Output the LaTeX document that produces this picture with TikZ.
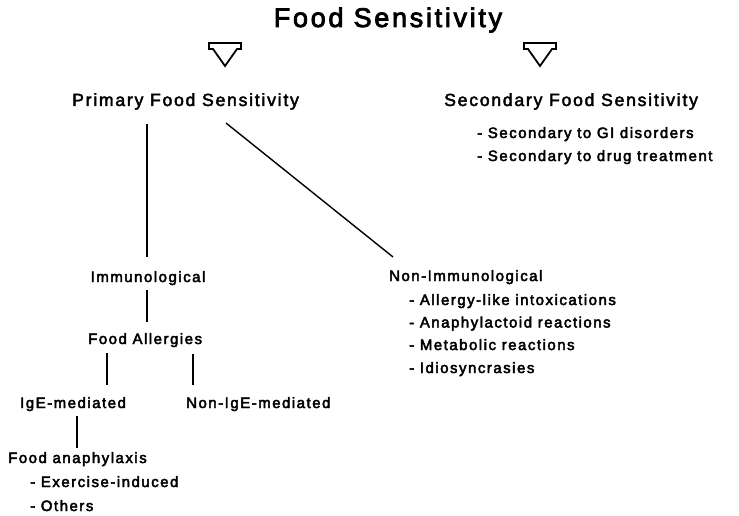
\documentclass[tikz,border=0pt]{standalone}
\usepackage{fontspec}
\setmainfont{Liberation Sans}
\newfontfamily\lsfont{Liberation Sans}[LetterSpace=10,FakeBold=3]
\newfontfamily\hdfont{Liberation Sans}[LetterSpace=10,FakeBold=2.5]
\newfontfamily\tsfont{Liberation Sans}[LetterSpace=10,FakeBold=3]
\begin{document}
\begin{tikzpicture}[x=1pt,y=-1pt,
  txt/.style={inner sep=0pt,anchor=base west,font=\lsfont\fontsize{15}{17}\selectfont},
  head/.style={inner sep=0pt,anchor=base west,font=\hdfont\fontsize{17.6}{20}\selectfont},
  link/.style={line width=1.4pt},
  openarrow/.style={line width=1.8pt,line join=miter}]
\useasboundingbox (0,0) rectangle (739,516);
\node[inner sep=0pt,anchor=base,font=\tsfont\fontsize{27}{30}\selectfont] (title) at (388,27) {Food Sensitivity};
% open arrows
\coordinate (arL) at (225,43);
\coordinate (arR) at (540,43);
\foreach \c in {arL,arR}{
  \draw[openarrow] ([xshift=-16pt]\c) -- ([xshift=16pt]\c) -- ([xshift=16pt,yshift=-6pt]\c) -- ([xshift=12pt,yshift=-6pt]\c)
     -- ([yshift=-23pt]\c) -- ([xshift=-12pt,yshift=-6pt]\c) -- ([xshift=-16pt,yshift=-6pt]\c) -- cycle;
}
\node[head] (prim) at (72,106) {Primary Food Sensitivity};
\node[head] (sec) at (444,106) {Secondary Food Sensitivity};
\node[txt] (sec1) at (477,138) {-\ Secondary to GI disorders};
\node[txt] (sec2) at (477,161) {-\ Secondary to drug treatment};
\node[txt,anchor=base] (imm) at (148,282) {Immunological};
\node[txt] (fa) at (88,344) {Food Allergies};
\node[txt] (ige) at (20,408) {IgE-mediated};
\node[txt] (nonige) at (186,408) {Non-IgE-mediated};
\node[txt] (fan) at (8,463) {Food anaphylaxis};
\node[txt] (ex) at (30,487) {-\ Exercise-induced};
\node[txt] (oth) at (30,511) {-\ Others};
\node[txt] (nonimm) at (389,281) {Non-Immunological};
\node[txt] (n1) at (409,305) {-\ Allergy-like intoxications};
\node[txt] (n2) at (409,327.5) {-\ Anaphylactoid reactions};
\node[txt] (n3) at (409,350) {-\ Metabolic reactions};
\node[txt] (n4) at (409,373) {-\ Idiosyncrasies};
% connector ends
\coordinate (pA) at (147,124);
\coordinate (pB) at (147,257);
\coordinate (pC) at (226,123);
\coordinate (pD) at (393,257);
\coordinate (iA) at (147,290);
\coordinate (iB) at (147,322);
\coordinate (fA) at (107,353);
\coordinate (fB) at (107,385);
\coordinate (fC) at (193,354);
\coordinate (fD) at (193,385);
\coordinate (gA) at (77,416);
\coordinate (gB) at (77,448);
\draw[link] (pA) -- (pB);
\draw[link] (pC) -- (pD);
\draw[link] (iA) -- (iB);
\draw[link] (fA) -- (fB);
\draw[link] (fC) -- (fD);
\draw[link] (gA) -- (gB);
\end{tikzpicture}
\end{document}
